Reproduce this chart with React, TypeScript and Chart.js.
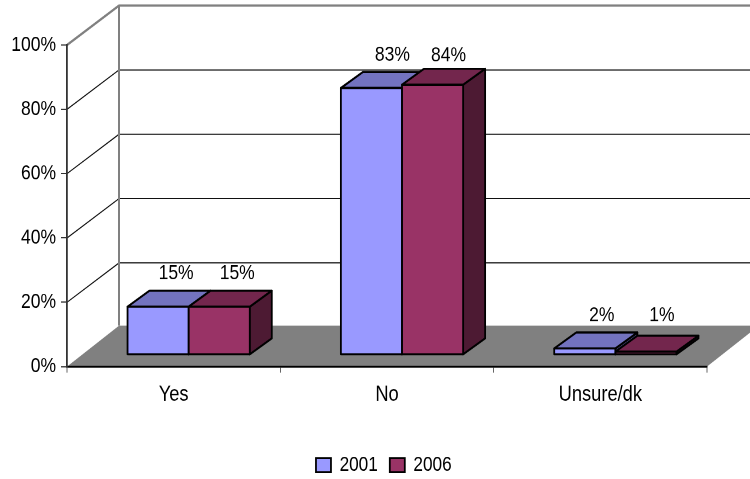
import React, { useEffect, useRef } from "react";
import { Chart, registerables } from "chart.js";

Chart.register(...registerables);

const categories = ["Yes", "No", "Unsure/dk"];
const seriesNames = ["2001", "2006"];
const values2001 = [15, 83, 2];
const values2006 = [15, 84, 1];
const labels2001 = ["15%", "83%", "2%"];
const labels2006 = ["15%", "84%", "1%"];
const frontColors = ["#9999FF", "#993366"];
const topColors = ["#7373BF", "#73264D"];
const sideColors = ["#4D4D80", "#4D1A33"];

// The reference is stretched vertically, so the chart is drawn on a shorter
// canvas and scaled up with CSS; all vertical sizes below are in canvas units.
const PAGE_H = 479;
const CANVAS_H = 410;
const SY = PAGE_H / CANVAS_H;
const FONT = '"Liberation Sans", Arial, sans-serif';
const FS = 17.5;
const WALL_DX = 52;
const WALL_DY = -39.4 / SY;
const FLOOR_DY = -41 / SY;
const BAR_SHIFT_X = 15;
const BAR_SHIFT_Y = -11.7 / SY;
const BAR_DX = 22;
const BAR_DY = -16 / SY;
const LW = 1.8;

// small hand placement of individual data labels, as in the reference
function labelNudge(text: string): [number, number] {
  if (text === "15%") return [1, 0];
  if (text === "83%") return [4, 0];
  if (text === "84%") return [-1, 3.4];
  if (text === "1%") return [-1, -2.6];
  return [0, 0];
}

const wallPlugin = {
  id: "wall",
  afterLayout(chart: any) {
    const lg = chart.legend;
    if (!lg) return;
    lg.left += 30.3;
    lg.right += 30.3;
    lg.top = 377.5;
  },
  beforeDraw(chart: any) {
    const { ctx, chartArea: a, scales } = chart;
    const y = scales.y;
    const W = chart.width;
    ctx.save();
    const y0 = y.getPixelForValue(0);
    ctx.fillStyle = "#808080";
    ctx.beginPath();
    ctx.moveTo(a.left, y0);
    ctx.lineTo(a.right, y0);
    ctx.lineTo(a.right + WALL_DX, y0 + FLOOR_DY);
    ctx.lineTo(a.left + WALL_DX, y0 + FLOOR_DY);
    ctx.closePath();
    ctx.fill();
    for (const v of [20, 40, 60, 80]) {
      const p = y.getPixelForValue(v);
      ctx.strokeStyle = "#111";
      ctx.lineWidth = 1;
      ctx.beginPath();
      ctx.moveTo(a.left, p);
      ctx.lineTo(a.left + WALL_DX, p + WALL_DY);
      ctx.lineTo(W, p + WALL_DY);
      ctx.stroke();
    }
    const top = y.getPixelForValue(100);
    ctx.strokeStyle = "#808080";
    ctx.lineWidth = 2;
    ctx.beginPath();
    ctx.moveTo(a.left, top);
    ctx.lineTo(a.left + WALL_DX, top + WALL_DY);
    ctx.lineTo(W, top + WALL_DY);
    ctx.moveTo(a.left + WALL_DX, top + WALL_DY);
    ctx.lineTo(a.left + WALL_DX, y0 + FLOOR_DY);
    ctx.stroke();
    ctx.restore();
  },
  beforeDatasetsDraw(chart: any) {
    const { ctx } = chart;
    ctx.save();
    ctx.translate(BAR_SHIFT_X, BAR_SHIFT_Y);
    ctx.strokeStyle = "#000";
    ctx.lineWidth = LW;
    ctx.lineJoin = "round";
    chart.data.datasets.forEach((_: any, i: number) => {
      chart.getDatasetMeta(i).data.forEach((el: any) => {
        const l = el.x - el.width / 2;
        const r = el.x + el.width / 2;
        const t = el.y;
        const b = el.base;
        ctx.fillStyle = sideColors[i];
        ctx.beginPath();
        ctx.moveTo(r, t);
        ctx.lineTo(r + BAR_DX, t + BAR_DY);
        ctx.lineTo(r + BAR_DX, b + BAR_DY);
        ctx.lineTo(r, b);
        ctx.closePath();
        ctx.fill();
        ctx.stroke();
        ctx.fillStyle = topColors[i];
        ctx.beginPath();
        ctx.moveTo(l, t);
        ctx.lineTo(l + BAR_DX, t + BAR_DY);
        ctx.lineTo(r + BAR_DX, t + BAR_DY);
        ctx.lineTo(r, t);
        ctx.closePath();
        ctx.fill();
        ctx.stroke();
      });
    });
  },
  afterDatasetsDraw(chart: any) {
    const { ctx } = chart;
    // outline of the front faces, centred on the bars' true edges
    chart.data.datasets.forEach((_: any, i: number) => {
      chart.getDatasetMeta(i).data.forEach((el: any) => {
        ctx.strokeRect(el.x - el.width / 2, el.y, el.width, el.base - el.y);
      });
    });
    ctx.restore();
    ctx.save();
    ctx.fillStyle = "#000";
    ctx.font = `${FS}px ${FONT}`;
    ctx.textAlign = "center";
    ctx.textBaseline = "middle";
    const texts = [labels2001, labels2006];
    chart.data.datasets.forEach((_: any, i: number) => {
      chart.getDatasetMeta(i).data.forEach((el: any, j: number) => {
        const [nx, ny] = labelNudge(texts[i][j]);
        ctx.fillText(texts[i][j], el.x + BAR_SHIFT_X + 17 + nx, el.y + BAR_SHIFT_Y - 28.3 + ny);
      });
    });
    ctx.restore();
  },
};

export default function App() {
  const ref = useRef<HTMLCanvasElement>(null);
  useEffect(() => {
    const chart = new Chart(ref.current!, {
      type: "bar",
      data: {
        labels: categories,
        datasets: [
          { label: seriesNames[0], data: values2001, backgroundColor: frontColors[0] },
          { label: seriesNames[1], data: values2006, backgroundColor: frontColors[1] },
        ].map((d) => ({
          ...d,
          borderWidth: 0,
          inflateAmount: 0,
          categoryPercentage: 0.573,
          barPercentage: 1,
          clip: false as any,
        })),
      },
      options: {
        responsive: false,
        animation: false,
        devicePixelRatio: 2,
        events: [],
        layout: { autoPadding: false, padding: { left: 0, right: 43, top: 45 / SY, bottom: 0 } },
        font: { family: FONT, size: FS },
        color: "#000",
        scales: {
          x: {
            afterFit: (s: any) => { s.height = 57; },
            grid: { drawOnChartArea: false, drawTicks: true, tickLength: 5.1, color: "#666" },
            border: { color: "#000", width: 1.8 },
            ticks: { color: "#000", padding: 8.3, font: { family: FONT, size: 18.3 }, maxRotation: 0 },
          },
          y: {
            min: 0,
            max: 100,
            afterFit: (s: any) => { s.width = 67; },
            grid: { drawOnChartArea: false, drawTicks: true, tickLength: 6, color: "#333" },
            border: { color: "#333", width: 1.8 },
            ticks: {
              stepSize: 20,
              color: "#000",
              padding: 5,
              font: { family: FONT, size: FS },
              callback: (v: any) => `${v}%`,
            },
          },
        },
        plugins: {
          tooltip: { enabled: false },
          legend: {
            position: "bottom",
            labels: {
              boxWidth: 15,
              boxHeight: 12,
              padding: 12,
              color: "#000",
              font: { family: FONT, size: 17.2 },
              generateLabels: (c: any) =>
                Chart.defaults.plugins.legend.labels
                  .generateLabels(c)
                  .map((it: any) => ({ ...it, lineWidth: LW, strokeStyle: "#000" })),
            },
          },
        },
      },
      plugins: [wallPlugin],
    } as any);
    return () => chart.destroy();
  }, []);
  return (
    <div style={{ position: "absolute", left: 0, top: 0, width: 750, height: PAGE_H, background: "#fff", overflow: "hidden" }}>
      <canvas
        ref={ref}
        width={750}
        height={CANVAS_H}
        style={{ display: "block", transformOrigin: "0 0", transform: `scaleY(${SY})` }}
      />
    </div>
  );
}
